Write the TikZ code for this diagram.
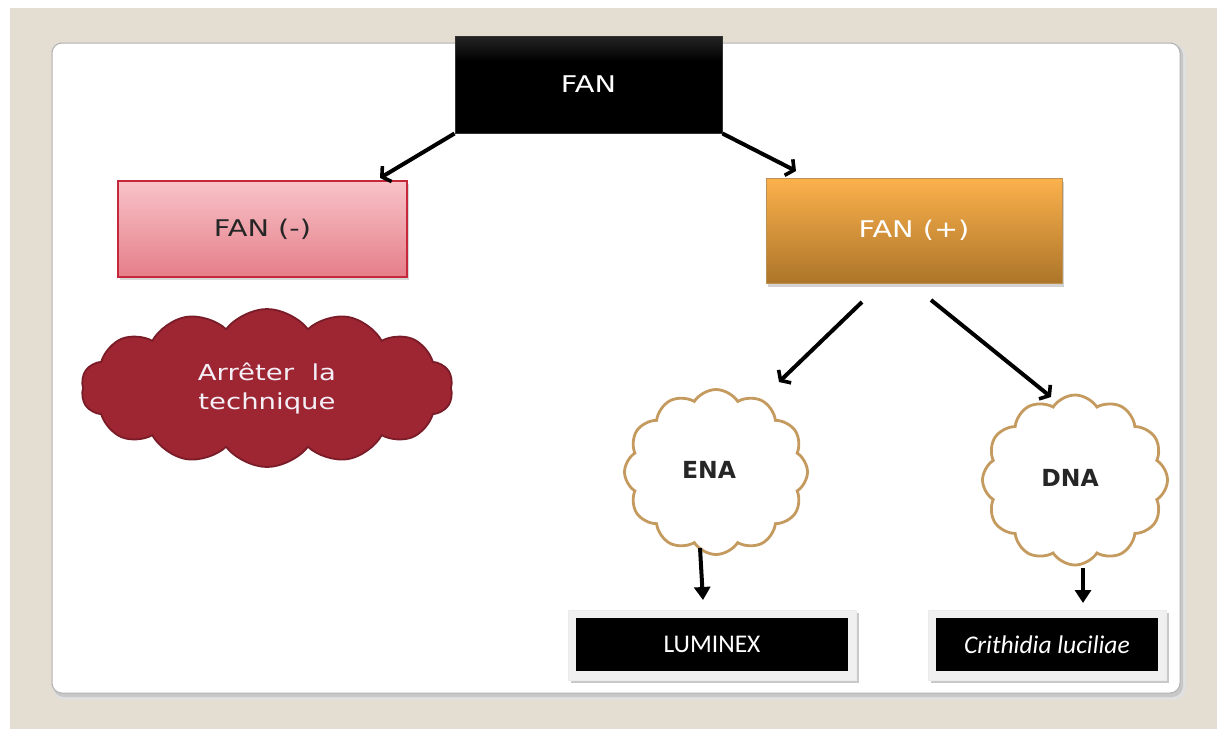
\documentclass[tikz,border=0pt]{standalone}
\usepackage{fontspec}
\newfontfamily\verd[FakeStretch=1.25]{DejaVu Sans}
\newfontfamily\verdb{DejaVu Sans Bold}
\newfontfamily\calib{Carlito}
\usetikzlibrary{shapes.symbols,shadows,arrows.meta}
\definecolor{beige}{HTML}{E3DDD2}
\definecolor{pinkT}{HTML}{F8C3C8}
\definecolor{pinkB}{HTML}{E57E89}
\definecolor{pinkD}{HTML}{C4283A}
\definecolor{orT}{HTML}{FCB14C}
\definecolor{orB}{HTML}{AC7529}
\definecolor{wine}{HTML}{9E2633}
\definecolor{wineD}{HTML}{7A1C27}
\definecolor{tan}{HTML}{C49A5E}
\definecolor{lav}{HTML}{F4EEF6}
\pgfdeclareverticalshading{fanshade}{100bp}{color(0bp)=(black); color(62bp)=(black); color(88bp)=(black!72); color(100bp)=(black!72)}
\tikzset{
  arr/.style={line width=4pt, -{Straight Barb[length=6pt,width=18pt,line width=3.6pt]}},
  darr/.style={line width=4pt, -{Triangle[length=13pt,width=16pt]}},
  fanbox/.style={draw=black!80, line width=1pt, shading=fanshade, text=white, font=\verd\fontsize{23}{27}\selectfont},
  negbox/.style={draw=pinkD, line width=1.8pt, top color=pinkT, bottom color=pinkB, text=black!85, font=\verd\fontsize{23}{27}\selectfont, drop shadow={shadow xshift=2pt, shadow yshift=-3pt, opacity=.3}},
  posbox/.style={draw=orB!80, line width=0.6pt, top color=orT, bottom color=orB, text=white, font=\verd\fontsize{23}{27}\selectfont, drop shadow={shadow xshift=2pt, shadow yshift=-4pt, opacity=.35}},
  wcloud/.style={cloud, cloud ignores aspect, cloud puffs=14, cloud puff arc=105, fill=wine, draw=wineD, line width=1.8pt, text=lav, align=center, font=\verd\fontsize{22}{29}\selectfont, inner sep=0pt},
  tcloud/.style={cloud, cloud ignores aspect, cloud puffs=12, cloud puff arc=115, fill=white, draw=tan, line width=2.8pt, inner sep=0pt},
  ctext/.style={text=black!85, font=\verdb\fontsize{23.5}{28}\selectfont},
  frame/.style={fill=black!6, draw=black!8, line width=0.5pt, drop shadow={shadow xshift=3pt, shadow yshift=-3pt, opacity=.35, fill=black!60}},
  blackbox/.style={fill=black, text=white, font=\calib\fontsize{25.5}{30}\selectfont, inner sep=0pt},
}
\begin{document}
\begin{tikzpicture}[x=1pt,y=-1pt]
\useasboundingbox (0,0) rectangle (1217,729);
\fill[white] (0,0) rectangle (1217,729);
\fill[beige] (10,8) rectangle (1217,729);
% panel
\fill[black!12, rounded corners=12pt] (53,44) rectangle (1186,700);
\fill[black!22, rounded corners=11pt] (53,44) rectangle (1183,697);
\filldraw[fill=white, draw=black!30, line width=1pt, rounded corners=10pt] (52,43) rectangle (1180,693);

% boxes
\node[fanbox, minimum width=267pt, minimum height=97pt] (fan) at (588.5,84.5) {FAN};
\node[negbox, minimum width=289pt, minimum height=96pt] (fanm) at (262.5,229) {FAN (-)};
\node[posbox, minimum width=296pt, minimum height=105pt] (fanp) at (914,230.5) {FAN (+)};

% clouds
\node[wcloud, minimum width=372pt, minimum height=158pt] (stop) at (267,388) {Arrêter\ \ la\\technique};
\node[tcloud, minimum width=183pt, minimum height=165pt] (ena) at (716,472) {};
\node[ctext] (enat) at (709,470) {ENA};
\node[tcloud, minimum width=185pt, minimum height=170pt] (dna) at (1075,480) {};
\node[ctext] (dnat) at (1070,478) {DNA};

% result boxes
\node[frame, minimum width=288pt, minimum height=70pt] (lumf) at (712,645) {};
\node[blackbox, minimum width=272pt, minimum height=53pt] (lum) at (712,644.5) {LUMINEX};
\node[frame, minimum width=238pt, minimum height=70pt] (crif) at (1047,645) {};
\node[blackbox, minimum width=222pt, minimum height=53pt] (cri) at (1047,644.5) {\itshape Crithidia luciliae};

% connector coordinates
\coordinate (e1) at (380,178);
\coordinate (e2) at (796,171);
\coordinate (s3) at (862,302);
\coordinate (e3) at (779,382);
\coordinate (s4) at (931,300);
\coordinate (e4) at (1051,397);
\coordinate (s5) at (700,548);
\coordinate (e5) at (703,600);
\coordinate (s6) at (1083,568);
\coordinate (e6) at (1083,603);

\draw[arr] (fan.south west) -- (e1);
\draw[arr] (fan.south east) -- (e2);
\draw[arr] (s3) -- (e3);
\draw[arr] (s4) -- (e4);
\draw[darr] (s5) -- (e5);
\draw[darr] (s6) -- (e6);
\end{tikzpicture}
\end{document}
